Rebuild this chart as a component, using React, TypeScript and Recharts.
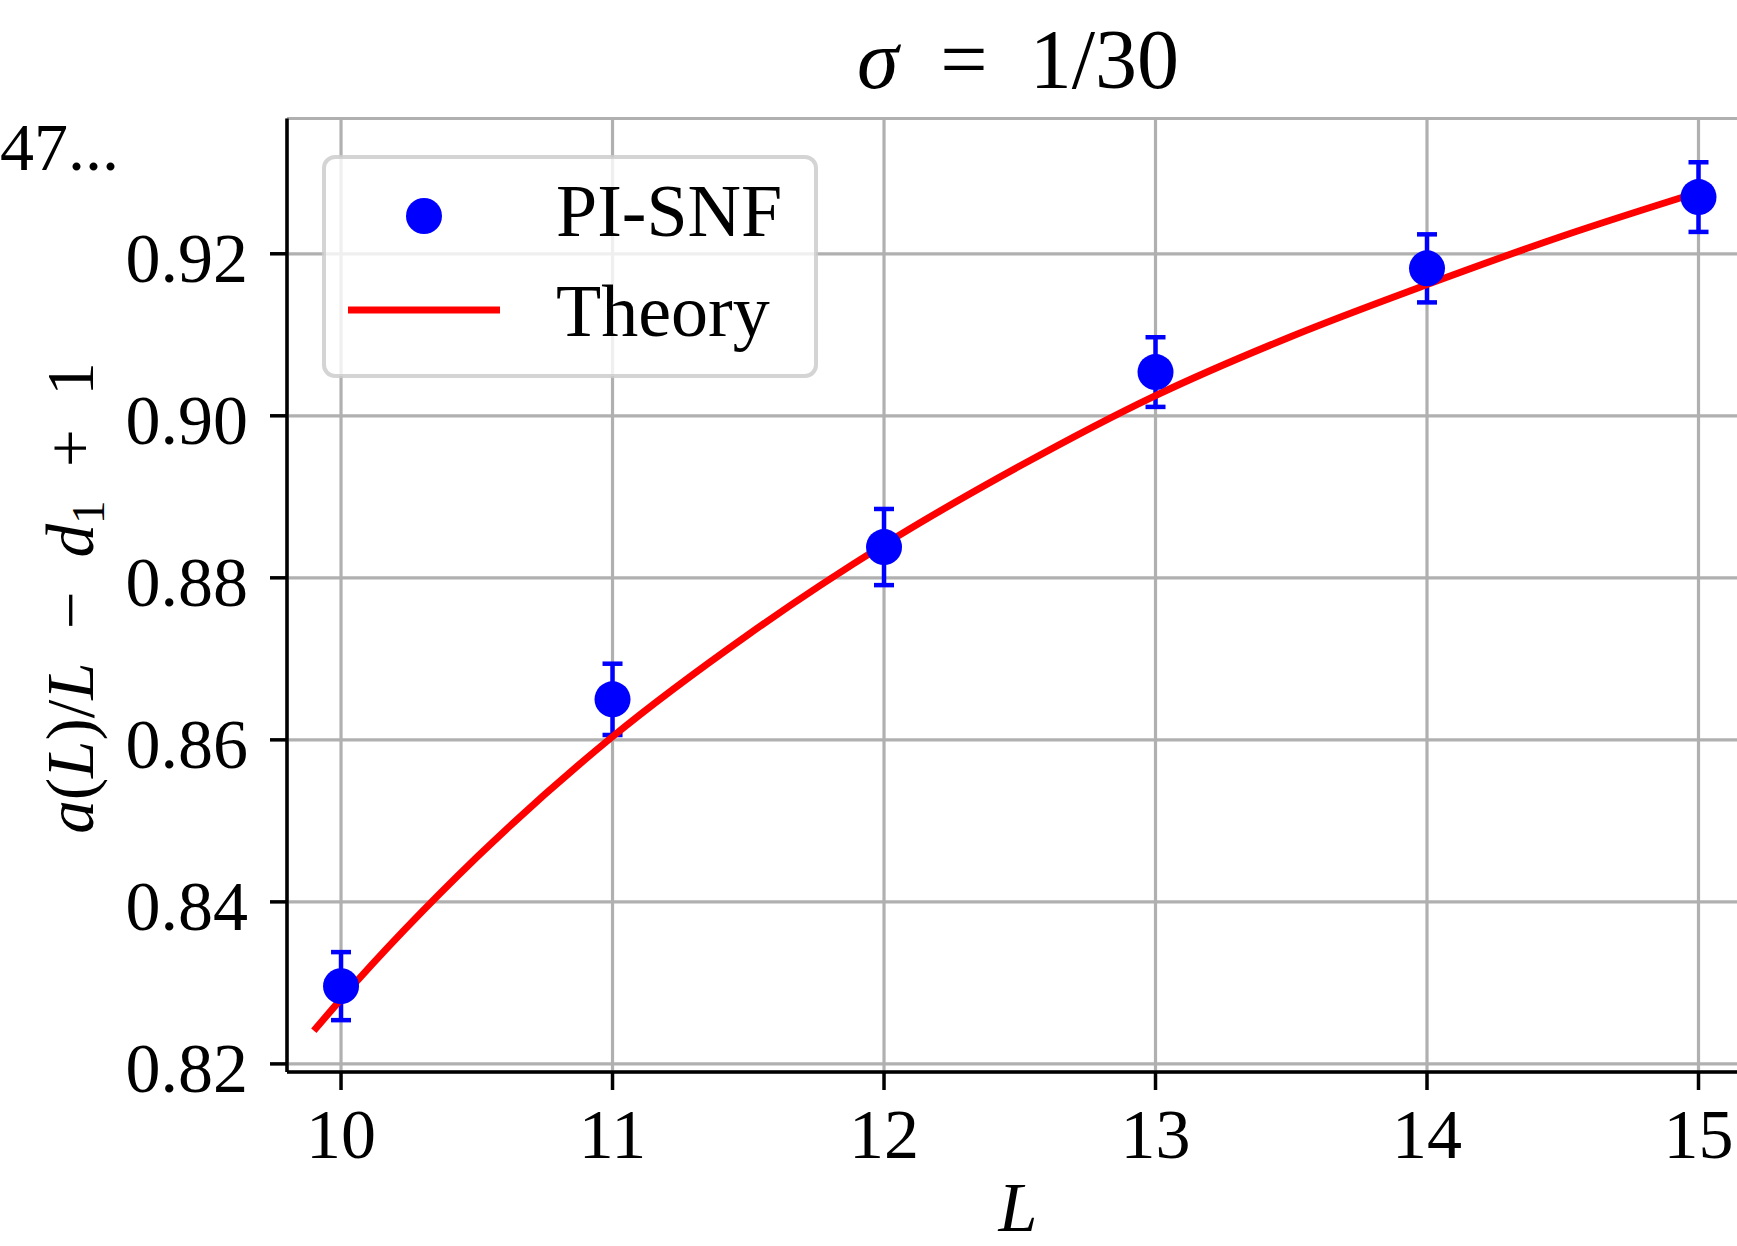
import React from 'react';
import {
  ComposedChart,
  Scatter,
  Line,
  XAxis,
  YAxis,
  CartesianGrid,
  ErrorBar,
  Customized,
} from 'recharts';

// ---- data ----
const xTicks = [10, 11, 12, 13, 14, 15];
const yTicks = [0.82, 0.84, 0.86, 0.88, 0.9, 0.92];

const snfL = [10, 11, 12, 13, 14, 15];
const snfValue = [0.8296, 0.865, 0.8838, 0.9054, 0.9182, 0.927];
const snfError = [0.0042, 0.0044, 0.0047, 0.0043, 0.0042, 0.0043];

const theoryL = [9.9, 10, 10.5, 11, 11.5, 12, 12.5, 13, 13.5, 14, 14.5, 15];
const theoryValue = [
  0.8241, 0.828, 0.8455, 0.8604, 0.873, 0.8841, 0.8938, 0.9025, 0.9098, 0.9162,
  0.9222, 0.9276,
];

const snfData = snfL.map((x, i) => ({ x, y: snfValue[i], err: snfError[i] }));
const theoryData = theoryL.map((x, i) => ({ x, y: theoryValue[i] }));

const FONT = '"Liberation Serif", "DejaVu Serif", serif';
const BLUE = '#0000ff';
const RED = '#ff0000';

const Dot = (props: any) => {
  const { cx, cy } = props;
  if (cx == null || cy == null) return null;
  return <circle cx={cx} cy={cy} r={18} fill={BLUE} />;
};

const Decorations = () => (
  <g>
    {/* title */}
    <text x={1018} y={88} textAnchor="middle" fontSize={84} fontFamily={FONT} fill="#000">
      <tspan fontStyle="italic">σ</tspan>
      <tspan>{'\u2002=\u20021/30'}</tspan>
    </text>
    {/* stray label top-left */}
    <text x={0} y={170} fontSize={68} fontFamily={FONT} fill="#000">
      47...
    </text>
    {/* y-axis label */}
    <text
      x={93}
      y={598}
      transform="rotate(-90 93 598)"
      textAnchor="middle"
      fontSize={67}
      fontFamily={FONT}
      fill="#000"
    >
      <tspan fontStyle="italic">a</tspan>
      <tspan>(</tspan>
      <tspan fontStyle="italic">L</tspan>
      <tspan>)/</tspan>
      <tspan fontStyle="italic">L</tspan>
      <tspan>{'\u2002\u2212\u2002'}</tspan>
      <tspan fontStyle="italic">d</tspan>
      <tspan fontSize={47} dy={11}>1</tspan>
      <tspan dy={-11}>{'\u2002+\u20021'}</tspan>
    </text>
    {/* legend */}
    <g>
      <rect
        x={324}
        y={157}
        width={492}
        height={219}
        rx={11}
        ry={11}
        fill="rgba(255,255,255,0.8)"
        stroke="rgba(204,204,204,0.85)"
        strokeWidth={4}
      />
      <circle cx={424} cy={216} r={18} fill={BLUE} />
      <text x={556} y={236} fontSize={74} fontFamily={FONT} fill="#000">
        PI-SNF
      </text>
      <line x1={348} y1={310} x2={500} y2={310} stroke={RED} strokeWidth={7} />
      <text x={556} y={336} fontSize={74} fontFamily={FONT} fill="#000">
        Theory
      </text>
    </g>
  </g>
);

export default function App() {
  return (
    <div
      style={{
        position: 'absolute',
        left: 0,
        top: 0,
        width: 1737,
        height: 1246,
        overflow: 'hidden',
        background: '#fff',
      }}
    >
      <ComposedChart
        width={1800}
        height={1246}
        margin={{ top: 118.5, right: 51, bottom: 0, left: 0 }}
      >
        <CartesianGrid stroke="#b0b0b0" strokeWidth={3.2} />
        <XAxis
          xAxisId="top"
          orientation="top"
          type="number"
          dataKey="x"
          domain={[9.801, 15.186]}
          allowDataOverflow
          height={0}
          tick={false}
          tickLine={false}
          axisLine={{ stroke: '#000', strokeWidth: 3.5 }}
        />
        <XAxis
          type="number"
          dataKey="x"
          domain={[9.801, 15.186]}
          allowDataOverflow
          ticks={xTicks}
          interval={0}
          height={174}
          tickSize={18}
          tickMargin={18}
          tick={{ fontSize: 70, fontFamily: FONT, fill: '#000' }}
          tickLine={{ stroke: '#000', strokeWidth: 3.5 }}
          axisLine={{ stroke: '#000', strokeWidth: 3.5 }}
          label={{
            content: (p: any) => {
              const vb = p.viewBox || { x: 287, y: 1072, width: 1462, height: 174 };
              return (
                <text
                  x={vb.x + vb.width / 2}
                  y={vb.y + vb.height - 15}
                  textAnchor="middle"
                  fontSize={70}
                  fontStyle="italic"
                  fontFamily={FONT}
                  fill="#000"
                >
                  L
                </text>
              );
            },
          }}
        />
        <YAxis
          type="number"
          domain={[0.819, 0.9367]}
          allowDataOverflow
          ticks={yTicks}
          interval={0}
          width={287}
          tickSize={17}
          tickMargin={22}
          tickFormatter={(v: number) => v.toFixed(2)}
          tick={{ fontSize: 70, fontFamily: FONT, fill: '#000', dy: 3 }}
          tickLine={{ stroke: '#000', strokeWidth: 3.5 }}
          axisLine={{ stroke: '#000', strokeWidth: 3.5 }}
        />
        <Scatter
          name="PI-SNF"
          data={snfData}
          dataKey="y"
          fill={BLUE}
          shape={Dot}
          isAnimationActive={false}
        >
          <ErrorBar
            dataKey="err"
            direction="y"
            width={10}
            stroke={BLUE}
            strokeWidth={4.5}
            isAnimationActive={false}
          />
        </Scatter>
        <Line
          name="Theory"
          data={theoryData}
          dataKey="y"
          type="monotone"
          stroke={RED}
          strokeWidth={7}
          dot={false}
          activeDot={false}
          isAnimationActive={false}
        />
        <Customized component={Decorations} />
      </ComposedChart>
    </div>
  );
}
